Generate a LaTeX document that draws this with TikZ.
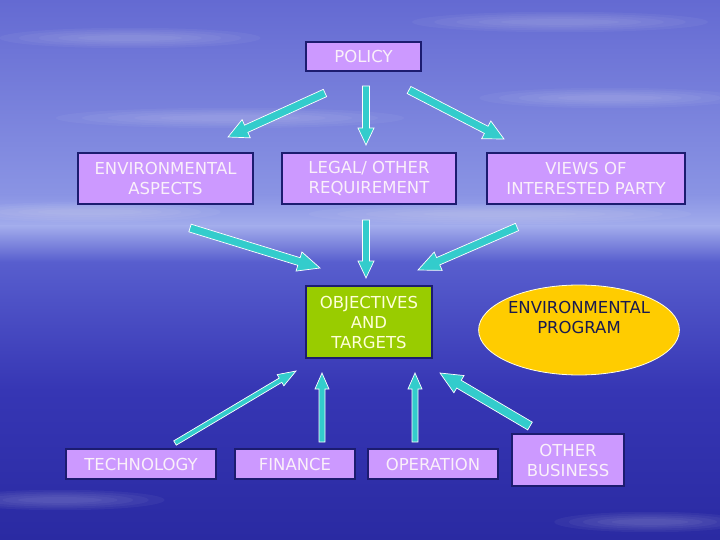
\documentclass[tikz,border=0pt]{standalone}
\usepackage{fontspec}
\setmainfont{DejaVu Sans}
\usetikzlibrary{calc,shapes.geometric}
\definecolor{boxfill}{HTML}{CC99FF}
\definecolor{boxline}{HTML}{1C1C70}
\definecolor{boxtext}{HTML}{FAF0FA}
\definecolor{greenfill}{HTML}{99CC00}
\definecolor{greentext}{HTML}{FFFFD8}
\definecolor{yellowfill}{HTML}{FFCC00}
\definecolor{navytext}{HTML}{1A1A50}
\definecolor{arrowfill}{HTML}{33CCCC}
\definecolor{skytop}{RGB}{100,106,210}
\definecolor{skylow}{RGB}{138,148,228}
\definecolor{skyhor}{RGB}{162,172,236}
\definecolor{seatop}{RGB}{88,94,206}
\definecolor{seamid}{RGB}{54,54,180}
\definecolor{seabot}{RGB}{42,42,162}
\newcommand\barrow[5]{%
  \coordinate (hb) at ($(#2)!#5!(#1)$);
  \draw[arrowstyle] ($(#1)!#3!90:(#2)$) -- ($(hb)!#3!90:(#2)$) -- ($(hb)!#4!90:(#2)$)
    -- (#2) -- ($(hb)!#4!-90:(#2)$) -- ($(hb)!#3!-90:(#2)$) -- ($(#1)!#3!-90:(#2)$) -- cycle;}
\newcommand\softcloud[3]{% centre x, y, half width
  \foreach \k in {1,...,5}{\fill[white,opacity=0.045] (#1,#2) ellipse ({#3*(1-0.13*\k)} and {12-1.8*\k});}}
\begin{document}
\begin{tikzpicture}[x=1pt,y=-1pt,
  box/.style={draw=boxline,line width=1.2pt,fill=boxfill,text=boxtext,align=center,
    inner sep=0pt,font=\fontsize{16.5}{20}\selectfont},
  greenbox/.style={box,fill=greenfill,text=greentext},
  progellipse/.style={ellipse,draw=white!90!yellow,line width=0.8pt,fill=yellowfill,text=navytext,
    align=center,inner sep=0pt,font=\fontsize{16.5}{20}\selectfont},
  arrowstyle/.style={fill=arrowfill,draw=white,line width=0.7pt,line join=miter}]
\useasboundingbox (0,0) rectangle (720,540);
% background
\shade[top color=skytop,bottom color=skylow] (0,0) rectangle (720,195);
\shade[top color=skylow,bottom color=skyhor] (0,195) rectangle (720,226);
\shade[top color=skyhor,bottom color=seatop] (0,226) rectangle (720,262);
\shade[top color=seatop,bottom color=seamid] (0,262) rectangle (720,390);
\shade[top color=seamid,bottom color=seabot] (0,390) rectangle (720,540);
% faint clouds
\softcloud{130}{38}{150}
\softcloud{560}{22}{170}
\softcloud{230}{118}{200}
\softcloud{610}{98}{150}
\softcloud{90}{212}{150}
\softcloud{500}{214}{220}
\softcloud{60}{500}{120}
\softcloud{650}{522}{110}
% nodes
\node[box,minimum width=115,minimum height=29] (policy) at (363.5,56.5) {POLICY};
\node[box,minimum width=175,minimum height=51] (aspects) at (165.5,178.5) {ENVIRONMENTAL\\ASPECTS};
\node[box,minimum width=174,minimum height=51] (legal) at (369,178.5) {LEGAL/ OTHER\\REQUIREMENT};
\node[box,minimum width=198,minimum height=51] (views) at (586,178.5) {VIEWS OF\\INTERESTED PARTY};
\node[greenbox,minimum width=126,minimum height=72] (obj) at (369,322) {OBJECTIVES\\AND\\TARGETS};
\node[progellipse,minimum width=198,minimum height=90] (prog) at (579,330) {ENVIRONMENTAL\\PROGRAM\\[6pt]};
\node[box,minimum width=150,minimum height=30] (tech) at (141,464) {TECHNOLOGY};
\node[box,minimum width=120,minimum height=30] (fin) at (295,464) {FINANCE};
\node[box,minimum width=130,minimum height=30] (oper) at (433,464) {OPERATION};
\node[box,minimum width=112,minimum height=52] (other) at (568,460) {OTHER\\BUSINESS};
% arrow end points
\coordinate (p1s) at (325,93);  \coordinate (p1e) at (228,137);
\coordinate (p2s) at (366,86);  \coordinate (p2e) at (366,145);
\coordinate (p3s) at (409,90);  \coordinate (p3e) at (504,139);
\coordinate (m1s) at (190,228); \coordinate (m1e) at (320,268);
\coordinate (m2s) at (366,220); \coordinate (m2e) at (366,278);
\coordinate (m3s) at (517,227); \coordinate (m3e) at (418,270);
\coordinate (b1s) at (175,443); \coordinate (b1e) at (296,371);
\coordinate (b2s) at (322,442); \coordinate (b2e) at (322,373);
\coordinate (b3s) at (415,442); \coordinate (b3e) at (415,373);
\coordinate (b4s) at (530,426); \coordinate (b4e) at (440,373);
% arrows
\barrow{p1s}{p1e}{4pt}{10pt}{20pt}
\barrow{p2s}{p2e}{3.5pt}{8pt}{17pt}
\barrow{p3s}{p3e}{4pt}{10pt}{20pt}
\barrow{m1s}{m1e}{4pt}{10pt}{22pt}
\barrow{m2s}{m2e}{3.5pt}{8pt}{17pt}
\barrow{m3s}{m3e}{4pt}{10pt}{22pt}
\barrow{b1s}{b1e}{2.5pt}{6.5pt}{18pt}
\barrow{b2s}{b2e}{3pt}{7pt}{16pt}
\barrow{b3s}{b3e}{3pt}{7pt}{16pt}
\barrow{b4s}{b4e}{4.5pt}{10pt}{22pt}
\end{tikzpicture}
\end{document}
